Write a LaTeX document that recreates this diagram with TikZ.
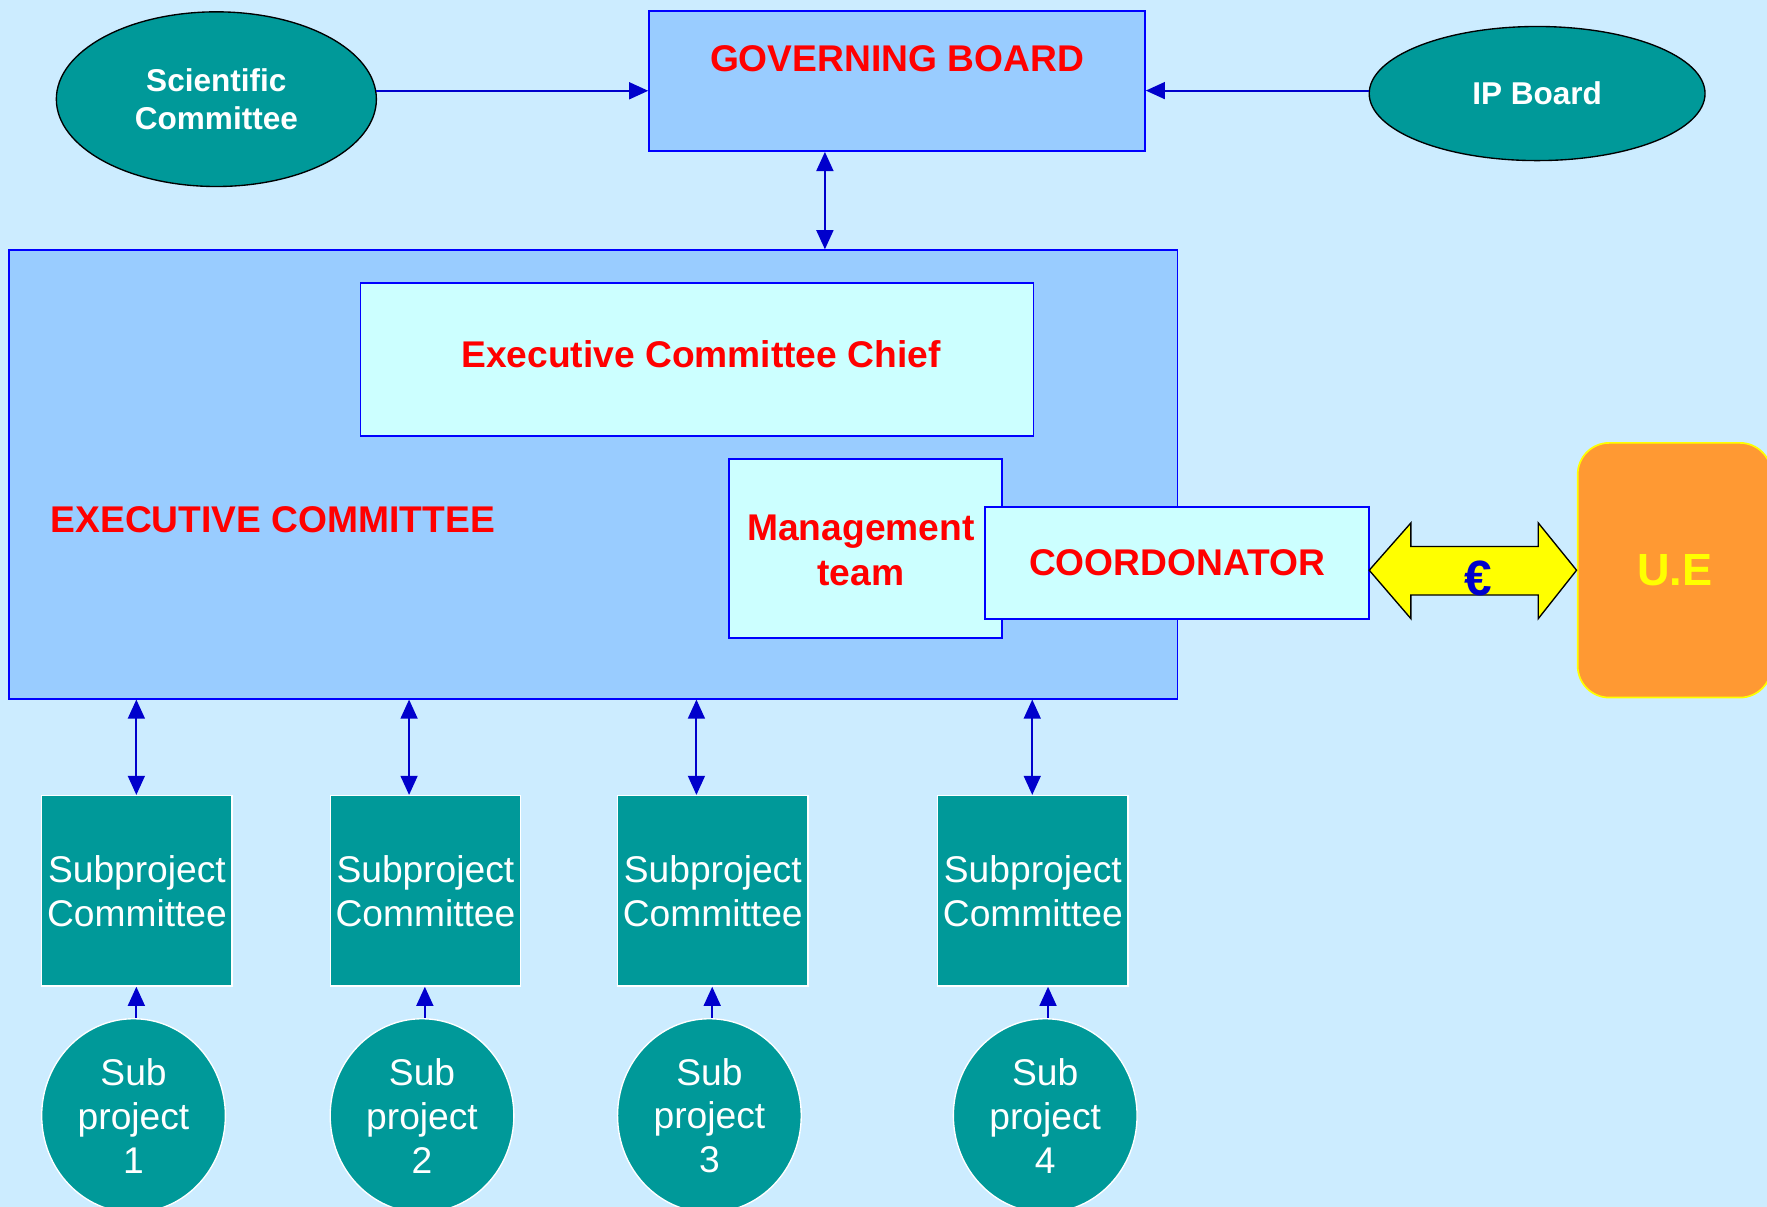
\documentclass[tikz,border=0pt]{standalone}
\usepackage{fontspec}
\setmainfont{Liberation Sans}
\usetikzlibrary{shapes.geometric,arrows.meta}
\definecolor{bgc}{HTML}{CCECFF}
\definecolor{boxb}{HTML}{99CCFF}
\definecolor{cyanf}{HTML}{CCFFFF}
\definecolor{tealf}{HTML}{009999}
\definecolor{lineb}{HTML}{0000FF}
\definecolor{arrb}{HTML}{0000CC}
\definecolor{redt}{HTML}{FF0000}
\definecolor{oranf}{HTML}{FF9933}
\definecolor{yell}{HTML}{FFFF00}
\begin{document}
\begin{tikzpicture}[x=1pt,y=-1pt,
 bluebox/.style={rectangle,draw=lineb,line width=1.5pt,fill=boxb,inner sep=0pt},
 cyanbox/.style={rectangle,draw=lineb,line width=1.5pt,fill=cyanf,inner sep=0pt,align=center,text=redt,font=\bfseries\fontsize{33}{40}\selectfont},
 redlbl/.style={text=redt,font=\bfseries\fontsize{33}{40}\selectfont,inner sep=0pt},
 topell/.style={ellipse,draw=black,line width=1.2pt,fill=tealf,text=white,align=center,inner sep=0pt,font=\bfseries\fontsize{28}{33}\selectfont},
 spbox/.style={rectangle,draw=white,line width=1.2pt,fill=tealf,text=white,align=center,inner sep=0pt,minimum width=169pt,minimum height=169pt,font=\fontsize{33}{39}\selectfont},
 spcirc/.style={ellipse,draw=white,line width=1.2pt,fill=tealf,text=white,align=center,inner sep=0pt,minimum width=163pt,minimum height=172pt,font=\fontsize{33}{39}\selectfont},
 conn/.style={draw=arrb,line width=1.8pt,-{Triangle[length=17pt,width=15pt]}},
 dconn/.style={draw=arrb,line width=1.8pt,{Triangle[length=17pt,width=15pt]}-{Triangle[length=17pt,width=15pt]}},
]
\fill[bgc] (0,0) rectangle (1568,1071);
\useasboundingbox (0,0) rectangle (1568,1071);
\clip (0,0) rectangle (1568,1071);

% top row
\node[topell,minimum width=284pt,minimum height=155pt] (sc) at (192,88) {Scientific\\Committee};
\node[bluebox,minimum width=440pt,minimum height=124pt] (gb) at (796,72) {};
\node[redlbl] (gbt) at (796,52) {GOVERNING BOARD};
\node[topell,minimum width=298pt,minimum height=119pt] (ip) at (1364,83) {IP Board};

% executive committee
\node[bluebox,minimum width=1037pt,minimum height=398pt] (ec) at (526.5,421) {};
\node[redlbl] (ect) at (242,461) {EXECUTIVE COMMITTEE};
\node[bluebox,fill=cyanf,minimum width=597pt,minimum height=136pt] (chief) at (618.5,319) {};
\node[redlbl] (chieft) at (622,314) {Executive Committee Chief};
\node[bluebox,fill=cyanf,minimum width=242pt,minimum height=159pt] (mt) at (768,486.5) {};
\node[redlbl,align=center] (mtt) at (764,488) {Management\\team};
\node[cyanbox,minimum width=341pt,minimum height=99pt] (coord) at (1044.5,499.5) {COORDONATOR};

% U.E and euro arrow
\node[rectangle,draw=yell,line width=1.5pt,fill=oranf,rounded corners=28pt,minimum width=172pt,minimum height=226pt,text=yell,font=\bfseries\fontsize{40}{48}\selectfont,inner sep=0pt] (ue) at (1486,506) {U.E};
\filldraw[fill=yell,draw=black,line width=1.2pt] (1215,506) -- (1252,464) -- (1252,485) -- (1365,485) -- (1365,464) -- (1399,506) -- (1365,549) -- (1365,528) -- (1252,528) -- (1252,549) -- cycle;
\node[text=arrb,font=\bfseries\fontsize{44}{46}\selectfont,inner sep=0pt] (eur) at (1312,513) {€};

% subprojects
\node[spbox] (sp1) at (121.5,790.5) {Subproject\\Committee};
\node[spbox] (sp2) at (377.5,790.5) {Subproject\\Committee};
\node[spbox] (sp3) at (632.5,790.5) {Subproject\\Committee};
\node[spbox] (sp4) at (916.5,790.5) {Subproject\\Committee};
\node[spcirc] (s1) at (118.5,990) {Sub\\project\\1};
\node[spcirc] (s2) at (374.5,990) {Sub\\project\\2};
\node[spcirc] (s3) at (629.5,990) {Sub\\project\\3};
\node[spcirc] (s4) at (927.5,990) {Sub\\project\\4};

% connectors
\draw[conn] (sc.3) -- (sc.3 -| gb.west);
\draw[conn] (ip.179) -- (ip.179 -| gb.east);
\coordinate (x0) at (732,0);
\draw[dconn] (x0 |- gb.south) -- (x0 |- ec.north);
\coordinate (a1) at (121,0);
\coordinate (a2) at (363,0);
\coordinate (a3) at (618,0);
\coordinate (a4) at (916,0);
\draw[dconn] (a1 |- ec.south) -- (a1 |- sp1.north);
\draw[dconn] (a2 |- ec.south) -- (a2 |- sp2.north);
\draw[dconn] (a3 |- ec.south) -- (a3 |- sp3.north);
\draw[dconn] (a4 |- ec.south) -- (a4 |- sp4.north);
\coordinate (b1) at (121,0);
\coordinate (b2) at (377,0);
\coordinate (b3) at (632,0);
\coordinate (b4) at (930,0);
\draw[conn] (b1 |- s1.north) -- (b1 |- sp1.south);
\draw[conn] (b2 |- s2.north) -- (b2 |- sp2.south);
\draw[conn] (b3 |- s3.north) -- (b3 |- sp3.south);
\draw[conn] (b4 |- s4.north) -- (b4 |- sp4.south);
\end{tikzpicture}
\end{document}
